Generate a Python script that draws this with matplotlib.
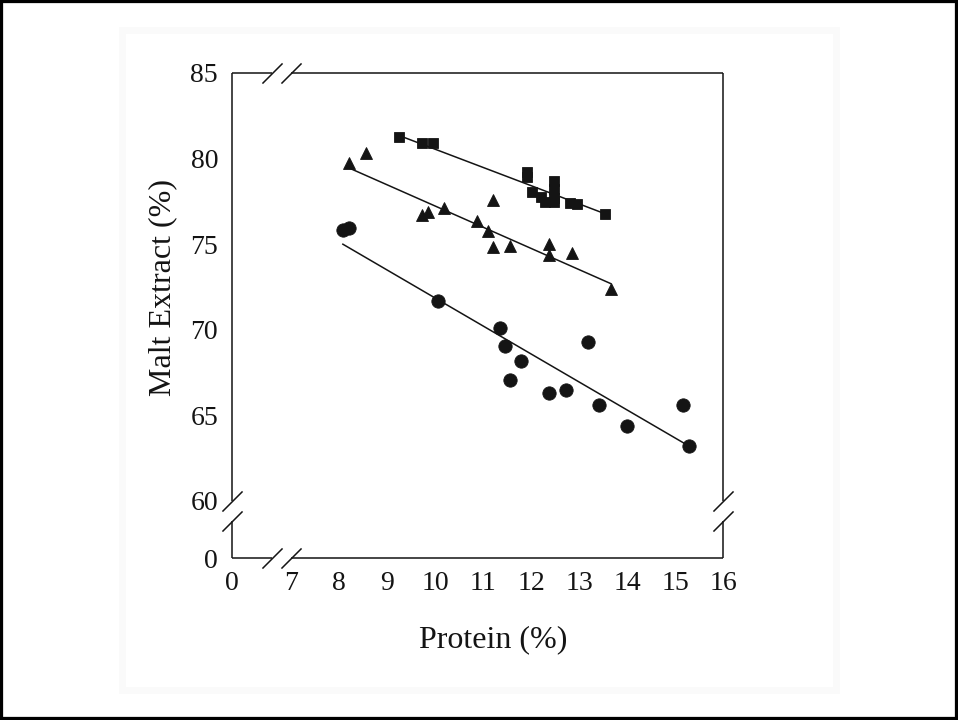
import matplotlib
matplotlib.use("Agg")
import matplotlib.pyplot as plt
from matplotlib.patches import Rectangle
from matplotlib.transforms import blended_transform_factory

plt.rcParams["font.family"] = ["Liberation Serif", "DejaVu Serif"]

# Protein (%) vs malt extract (%) for three groups of samples
sq_protein = [9.25, 9.72, 9.95, 11.92, 11.92, 12.02, 12.20, 12.30, 12.47, 12.47,
              12.47, 12.47, 12.81, 12.95, 13.54]
sq_extract = [81.26, 80.90, 80.90, 79.22, 78.95, 78.05, 77.75, 77.45, 78.70, 78.20,
              77.70, 77.45, 77.42, 77.33, 76.76]
sq_fit_x = [9.25, 13.54]
sq_fit_y = [81.35, 76.78]

tri_protein = [8.21, 8.56, 9.72, 9.85, 10.19, 10.87, 11.11, 11.21, 11.21, 11.56,
               12.38, 12.38, 12.85, 13.66]
tri_extract = [79.73, 80.31, 76.70, 76.90, 77.10, 76.36, 75.79, 77.60, 74.82, 74.90,
               75.00, 74.37, 74.47, 72.38]
tri_fit_x = [8.21, 13.66]
tri_fit_y = [79.45, 72.70]

cir_protein = [8.08, 8.21, 10.07, 11.35, 11.46, 11.57, 11.79, 12.38, 12.72, 13.18,
               13.42, 14.01, 15.17, 15.29]
cir_extract = [75.85, 75.95, 71.68, 70.12, 69.07, 67.07, 68.18, 66.29, 66.48, 69.27,
               65.61, 64.38, 65.61, 63.23]
cir_fit_x = [8.08, 15.29]
cir_fit_y = [75.00, 63.21]

# Broken axes: the "0" origin sits left of the x break and below the y break
x_origin, x_break = 5.77, (6.60, 7.0)
y_origin, y_break = 56.67, (58.83, 60.0)
x_ticks = [x_origin, 7, 8, 9, 10, 11, 12, 13, 14, 15, 16]
x_labels = ["0", "7", "8", "9", "10", "11", "12", "13", "14", "15", "16"]
y_ticks = [y_origin, 60, 65, 70, 75, 80, 85]
y_labels = ["0", "60", "65", "70", "75", "80", "85"]

ink = "#141414"

fig = plt.figure(figsize=(9.58, 7.2), dpi=100)
fig.patch.set_facecolor("white")

# page background and outer border
fig.add_artist(Rectangle((122 / 958, 1 - 690 / 720), 714 / 958, 660 / 720,
                         transform=fig.transFigure, fill=False,
                         edgecolor="#fafafa", linewidth=5, zorder=0))
fig.add_artist(Rectangle((0, 0), 1, 1, transform=fig.transFigure, fill=False,
                         edgecolor="black", linewidth=4.5, zorder=10))

ax = fig.add_axes([232 / 958, 1 - 558 / 720, 491 / 958, 485 / 720])
ax.set_facecolor("none")
ax.set_xlim(x_origin, 16)
ax.set_ylim(y_origin, 85)
for s in ax.spines.values():
    s.set_visible(False)

lw = 1.1
# frame drawn in pieces so the breaks leave gaps
bx = blended_transform_factory(ax.transData, ax.transAxes)
by = blended_transform_factory(ax.transAxes, ax.transData)
frame = dict(color=ink, linewidth=lw, clip_on=False, solid_capstyle="butt")
ax.plot([x_origin, x_break[0]], [0, 0], transform=bx, **frame)
ax.plot([x_break[1], 16], [0, 0], transform=bx, **frame)
ax.plot([x_origin, x_break[0]], [1, 1], transform=bx, **frame)
ax.plot([x_break[1], 16], [1, 1], transform=bx, **frame)
ax.plot([0, 0], [y_origin, y_break[0]], transform=by, **frame)
ax.plot([0, 0], [y_break[1], 85], transform=by, **frame)
ax.plot([1, 1], [y_origin, y_break[0]], transform=by, **frame)
ax.plot([1, 1], [y_break[1], 85], transform=by, **frame)

slash = dict(marker=[(-1, -1), (1, 1)], markersize=14.5, linestyle="none",
             color=ink, mec=ink, mew=lw, clip_on=False)
ax.plot(list(x_break), [0, 0], transform=bx, **slash)
ax.plot(list(x_break), [1, 1], transform=bx, **slash)
ax.plot([0, 0], list(y_break), transform=by, **slash)
ax.plot([1, 1], list(y_break), transform=by, **slash)

# labels on major ticks, inward marks on minor ticks
ax.set_xticks(x_ticks)
ax.set_xticklabels(x_labels)
ax.set_yticks(y_ticks)
ax.set_yticklabels(y_labels)
ax.set_xticks([8, 9, 10, 11, 12, 13, 14, 15], minor=True)
ax.set_yticks([65, 70, 75, 80], minor=True)
ax.tick_params(which="major", length=0, labelsize=20, colors=ink)
ax.tick_params(axis="x", which="major", pad=9)
ax.tick_params(axis="y", which="major", pad=10)
ax.tick_params(which="minor", length=6, width=lw, direction="in", color=ink)

# regression lines and data points
line = dict(color=ink, linewidth=1.1)
ax.plot(sq_fit_x, sq_fit_y, **line)
ax.plot(tri_fit_x, tri_fit_y, **line)
ax.plot(cir_fit_x, cir_fit_y, **line)
ax.plot(sq_protein, sq_extract, "s", ms=7.6, color=ink, mew=0.6, clip_on=False)
ax.plot(tri_protein, tri_extract, "^", ms=9.0, color=ink, mew=0.6, clip_on=False)
ax.plot(cir_protein, cir_extract, "o", ms=9.6, color=ink, mew=0.6, clip_on=False)

ax.set_xlabel("Protein (%)", fontsize=23, color=ink)
ax.xaxis.set_label_coords(0.532, -0.169)
ax.xaxis.label.set_verticalalignment("center")
ax.set_ylabel("Malt Extract (%)", fontsize=23, color=ink)
ax.yaxis.set_label_coords(-0.1405, 0.557)
ax.yaxis.label.set_verticalalignment("center")

fig.savefig("out.png", dpi=100, facecolor="white")
